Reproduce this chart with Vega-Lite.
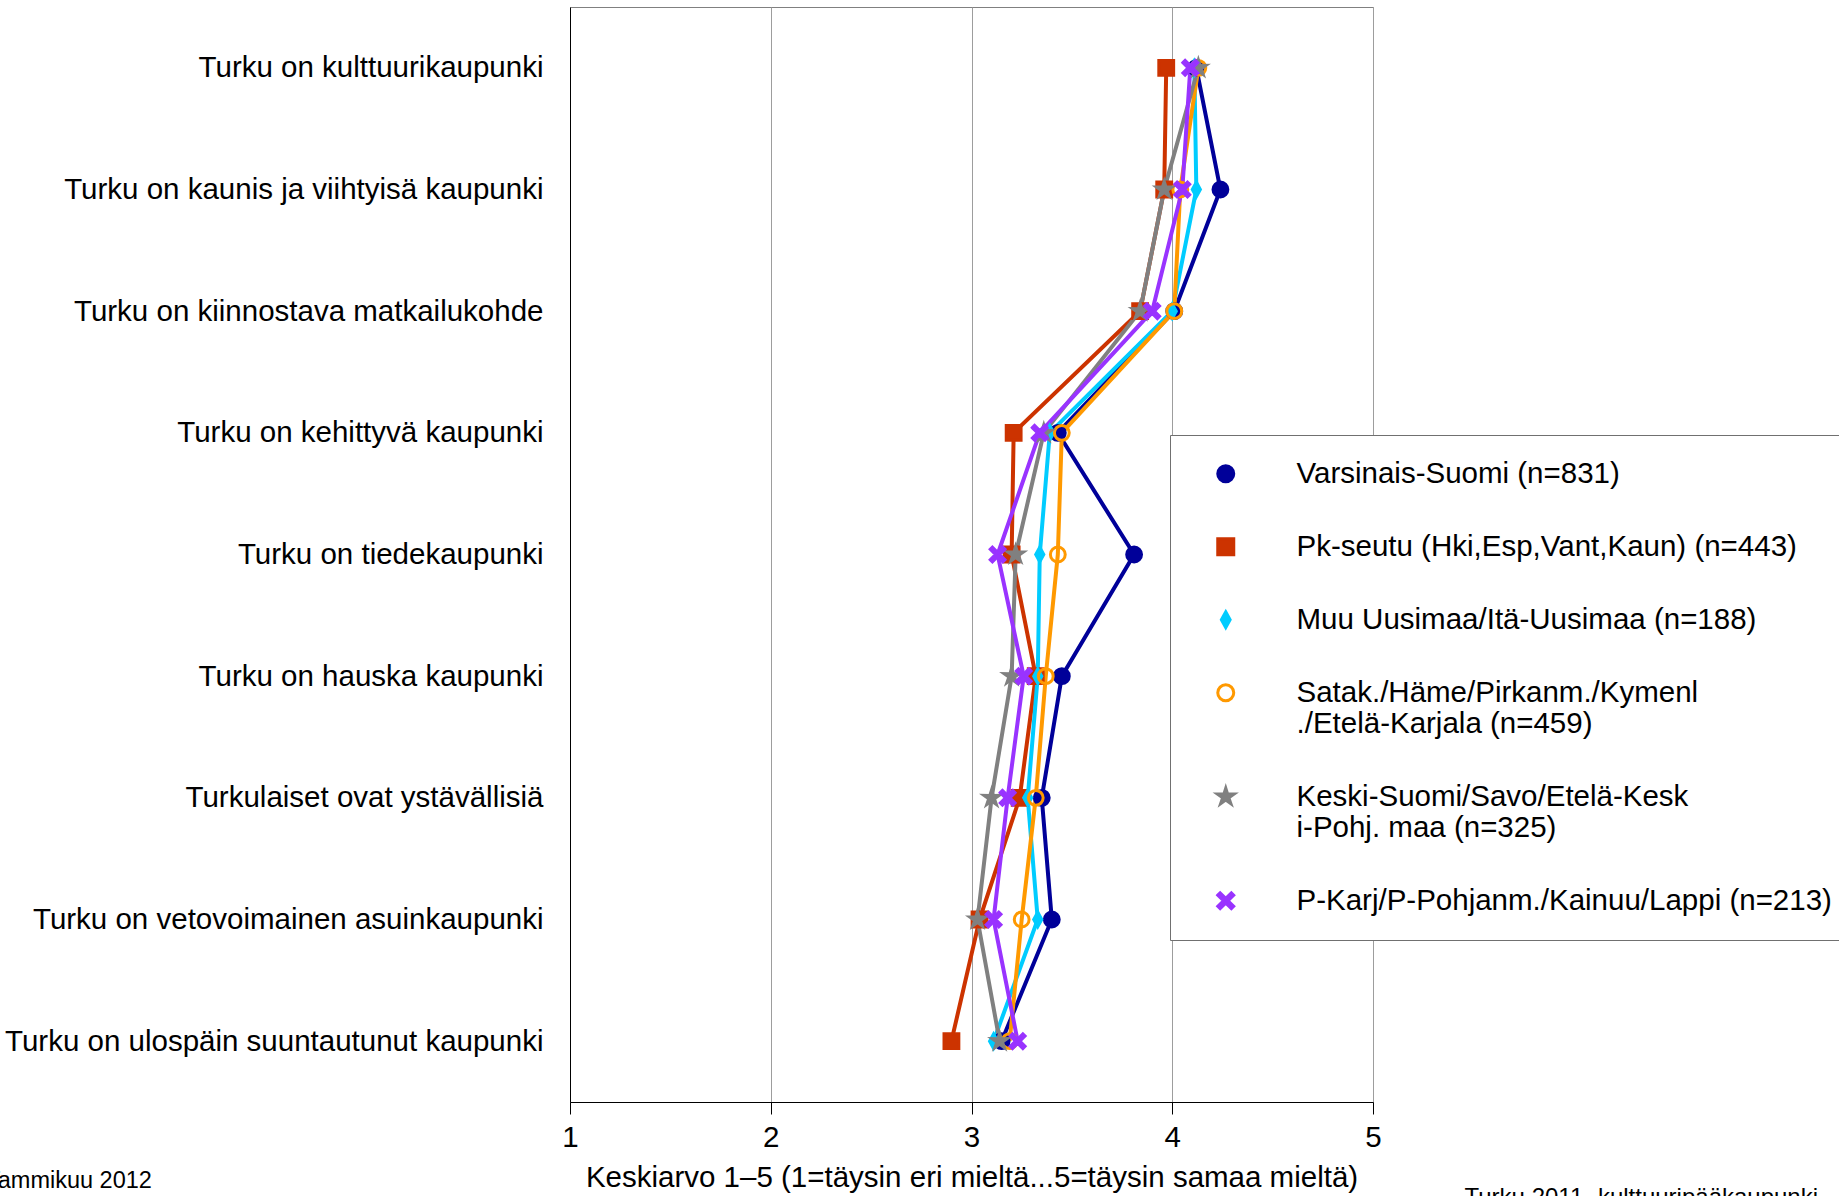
{
  "$schema": "https://vega.github.io/schema/vega-lite/v6.json",
  "width": 803,
  "height": 1095,
  "autosize": {"type": "none"},
  "padding": {"left": 570, "top": 7, "right": 466, "bottom": 94},
  "background": "white",
  "config": {
    "font": "Liberation Sans",
    "view": {"stroke": "#808080", "strokeWidth": 1},
    "legend": {
      "orient": "none",
      "legendX": 600,
      "legendY": 428,
      "padding": 24,
      "rowPadding": 42,
      "symbolSize": 256,
      "symbolStrokeWidth": 3,
      "symbolOffset": 17,
      "labelOffset": 56,
      "labelFontSize": 29.5,
      "labelColor": "black",
      "labelFont": "Liberation Sans",
      "labelLimit": 1000,
      "strokeColor": "#707070",
      "fillColor": "white"
    }
  },
  "title": {
    "text": "Tammikuu 2012",
    "orient": "bottom",
    "anchor": "start",
    "frame": "group",
    "dx": -584,
    "offset": -40,
    "fontSize": 23.5,
    "fontWeight": "normal",
    "color": "black",
    "font": "Liberation Sans"
  },
  "data": {
    "values": [
      {"q": "Turku on kulttuurikaupunki", "i": 1, "s": "Varsinais-Suomi (n=831)", "v": 4.12},
      {"q": "Turku on kaunis ja viihtyisä kaupunki", "i": 2, "s": "Varsinais-Suomi (n=831)", "v": 4.24},
      {"q": "Turku on kiinnostava matkailukohde", "i": 3, "s": "Varsinais-Suomi (n=831)", "v": 4.01},
      {"q": "Turku on kehittyvä kaupunki", "i": 4, "s": "Varsinais-Suomi (n=831)", "v": 3.43},
      {"q": "Turku on tiedekaupunki", "i": 5, "s": "Varsinais-Suomi (n=831)", "v": 3.81},
      {"q": "Turku on hauska kaupunki", "i": 6, "s": "Varsinais-Suomi (n=831)", "v": 3.45},
      {"q": "Turkulaiset ovat ystävällisiä", "i": 7, "s": "Varsinais-Suomi (n=831)", "v": 3.35},
      {"q": "Turku on vetovoimainen asuinkaupunki", "i": 8, "s": "Varsinais-Suomi (n=831)", "v": 3.4},
      {"q": "Turku on ulospäin suuntautunut kaupunki", "i": 9, "s": "Varsinais-Suomi (n=831)", "v": 3.15},
      {"q": "Turku on kulttuurikaupunki", "i": 1, "s": "Pk-seutu (Hki,Esp,Vant,Kaun) (n=443)", "v": 3.97},
      {"q": "Turku on kaunis ja viihtyisä kaupunki", "i": 2, "s": "Pk-seutu (Hki,Esp,Vant,Kaun) (n=443)", "v": 3.96},
      {"q": "Turku on kiinnostava matkailukohde", "i": 3, "s": "Pk-seutu (Hki,Esp,Vant,Kaun) (n=443)", "v": 3.84},
      {"q": "Turku on kehittyvä kaupunki", "i": 4, "s": "Pk-seutu (Hki,Esp,Vant,Kaun) (n=443)", "v": 3.21},
      {"q": "Turku on tiedekaupunki", "i": 5, "s": "Pk-seutu (Hki,Esp,Vant,Kaun) (n=443)", "v": 3.2},
      {"q": "Turku on hauska kaupunki", "i": 6, "s": "Pk-seutu (Hki,Esp,Vant,Kaun) (n=443)", "v": 3.32},
      {"q": "Turkulaiset ovat ystävällisiä", "i": 7, "s": "Pk-seutu (Hki,Esp,Vant,Kaun) (n=443)", "v": 3.24},
      {"q": "Turku on vetovoimainen asuinkaupunki", "i": 8, "s": "Pk-seutu (Hki,Esp,Vant,Kaun) (n=443)", "v": 3.04},
      {"q": "Turku on ulospäin suuntautunut kaupunki", "i": 9, "s": "Pk-seutu (Hki,Esp,Vant,Kaun) (n=443)", "v": 2.9},
      {"q": "Turku on kulttuurikaupunki", "i": 1, "s": "Muu Uusimaa/Itä-Uusimaa (n=188)", "v": 4.11},
      {"q": "Turku on kaunis ja viihtyisä kaupunki", "i": 2, "s": "Muu Uusimaa/Itä-Uusimaa (n=188)", "v": 4.12},
      {"q": "Turku on kiinnostava matkailukohde", "i": 3, "s": "Muu Uusimaa/Itä-Uusimaa (n=188)", "v": 4.0},
      {"q": "Turku on kehittyvä kaupunki", "i": 4, "s": "Muu Uusimaa/Itä-Uusimaa (n=188)", "v": 3.39},
      {"q": "Turku on tiedekaupunki", "i": 5, "s": "Muu Uusimaa/Itä-Uusimaa (n=188)", "v": 3.34},
      {"q": "Turku on hauska kaupunki", "i": 6, "s": "Muu Uusimaa/Itä-Uusimaa (n=188)", "v": 3.33},
      {"q": "Turkulaiset ovat ystävällisiä", "i": 7, "s": "Muu Uusimaa/Itä-Uusimaa (n=188)", "v": 3.28},
      {"q": "Turku on vetovoimainen asuinkaupunki", "i": 8, "s": "Muu Uusimaa/Itä-Uusimaa (n=188)", "v": 3.33},
      {"q": "Turku on ulospäin suuntautunut kaupunki", "i": 9, "s": "Muu Uusimaa/Itä-Uusimaa (n=188)", "v": 3.11},
      {"q": "Turku on kulttuurikaupunki", "i": 1, "s": "Satak./Häme/Pirkanm./Kymenl./Etelä-Karjala (n=459)", "v": 4.13},
      {"q": "Turku on kaunis ja viihtyisä kaupunki", "i": 2, "s": "Satak./Häme/Pirkanm./Kymenl./Etelä-Karjala (n=459)", "v": 4.04},
      {"q": "Turku on kiinnostava matkailukohde", "i": 3, "s": "Satak./Häme/Pirkanm./Kymenl./Etelä-Karjala (n=459)", "v": 4.01},
      {"q": "Turku on kehittyvä kaupunki", "i": 4, "s": "Satak./Häme/Pirkanm./Kymenl./Etelä-Karjala (n=459)", "v": 3.45},
      {"q": "Turku on tiedekaupunki", "i": 5, "s": "Satak./Häme/Pirkanm./Kymenl./Etelä-Karjala (n=459)", "v": 3.43},
      {"q": "Turku on hauska kaupunki", "i": 6, "s": "Satak./Häme/Pirkanm./Kymenl./Etelä-Karjala (n=459)", "v": 3.37},
      {"q": "Turkulaiset ovat ystävällisiä", "i": 7, "s": "Satak./Häme/Pirkanm./Kymenl./Etelä-Karjala (n=459)", "v": 3.32},
      {"q": "Turku on vetovoimainen asuinkaupunki", "i": 8, "s": "Satak./Häme/Pirkanm./Kymenl./Etelä-Karjala (n=459)", "v": 3.25},
      {"q": "Turku on ulospäin suuntautunut kaupunki", "i": 9, "s": "Satak./Häme/Pirkanm./Kymenl./Etelä-Karjala (n=459)", "v": 3.19},
      {"q": "Turku on kulttuurikaupunki", "i": 1, "s": "Keski-Suomi/Savo/Etelä-Keski-Pohj. maa (n=325)", "v": 4.13},
      {"q": "Turku on kaunis ja viihtyisä kaupunki", "i": 2, "s": "Keski-Suomi/Savo/Etelä-Keski-Pohj. maa (n=325)", "v": 3.96},
      {"q": "Turku on kiinnostava matkailukohde", "i": 3, "s": "Keski-Suomi/Savo/Etelä-Keski-Pohj. maa (n=325)", "v": 3.84},
      {"q": "Turku on kehittyvä kaupunki", "i": 4, "s": "Keski-Suomi/Savo/Etelä-Keski-Pohj. maa (n=325)", "v": 3.36},
      {"q": "Turku on tiedekaupunki", "i": 5, "s": "Keski-Suomi/Savo/Etelä-Keski-Pohj. maa (n=325)", "v": 3.22},
      {"q": "Turku on hauska kaupunki", "i": 6, "s": "Keski-Suomi/Savo/Etelä-Keski-Pohj. maa (n=325)", "v": 3.2},
      {"q": "Turkulaiset ovat ystävällisiä", "i": 7, "s": "Keski-Suomi/Savo/Etelä-Keski-Pohj. maa (n=325)", "v": 3.1},
      {"q": "Turku on vetovoimainen asuinkaupunki", "i": 8, "s": "Keski-Suomi/Savo/Etelä-Keski-Pohj. maa (n=325)", "v": 3.03},
      {"q": "Turku on ulospäin suuntautunut kaupunki", "i": 9, "s": "Keski-Suomi/Savo/Etelä-Keski-Pohj. maa (n=325)", "v": 3.14},
      {"q": "Turku on kulttuurikaupunki", "i": 1, "s": "P-Karj/P-Pohjanm./Kainuu/Lappi (n=213)", "v": 4.09},
      {"q": "Turku on kaunis ja viihtyisä kaupunki", "i": 2, "s": "P-Karj/P-Pohjanm./Kainuu/Lappi (n=213)", "v": 4.05},
      {"q": "Turku on kiinnostava matkailukohde", "i": 3, "s": "P-Karj/P-Pohjanm./Kainuu/Lappi (n=213)", "v": 3.9},
      {"q": "Turku on kehittyvä kaupunki", "i": 4, "s": "P-Karj/P-Pohjanm./Kainuu/Lappi (n=213)", "v": 3.34},
      {"q": "Turku on tiedekaupunki", "i": 5, "s": "P-Karj/P-Pohjanm./Kainuu/Lappi (n=213)", "v": 3.13},
      {"q": "Turku on hauska kaupunki", "i": 6, "s": "P-Karj/P-Pohjanm./Kainuu/Lappi (n=213)", "v": 3.26},
      {"q": "Turkulaiset ovat ystävällisiä", "i": 7, "s": "P-Karj/P-Pohjanm./Kainuu/Lappi (n=213)", "v": 3.18},
      {"q": "Turku on vetovoimainen asuinkaupunki", "i": 8, "s": "P-Karj/P-Pohjanm./Kainuu/Lappi (n=213)", "v": 3.11},
      {"q": "Turku on ulospäin suuntautunut kaupunki", "i": 9, "s": "P-Karj/P-Pohjanm./Kainuu/Lappi (n=213)", "v": 3.23}
    ]
  },
  "encoding": {
    "y": {
      "field": "q",
      "type": "nominal",
      "sort": ["Turku on kulttuurikaupunki", "Turku on kaunis ja viihtyisä kaupunki", "Turku on kiinnostava matkailukohde", "Turku on kehittyvä kaupunki", "Turku on tiedekaupunki", "Turku on hauska kaupunki", "Turkulaiset ovat ystävällisiä", "Turku on vetovoimainen asuinkaupunki", "Turku on ulospäin suuntautunut kaupunki"],
      "axis": {
        "title": "Turku 2011 -kulttuuripääkaupunki",
        "titleAngle": 0,
        "titleX": 894,
        "titleY": 1178,
        "titleAlign": "left",
        "titleBaseline": "top",
        "titleFontSize": 24,
        "titleFontWeight": "normal",
        "titleColor": "black",
        "labelFontSize": 29.5,
        "labelColor": "black",
        "labelPadding": 27,
        "labelLimit": 0,
        "ticks": false,
        "domainColor": "black",
        "grid": false
      }
    },
    "x": {
      "field": "v",
      "type": "quantitative",
      "scale": {"domain": [1, 5], "nice": false, "zero": false},
      "axis": {
        "orient": "bottom",
        "values": [1, 2, 3, 4, 5],
        "format": "d",
        "title": "Keskiarvo 1–5 (1=täysin eri mieltä...5=täysin samaa mieltä)",
        "titleFontSize": 29.5,
        "titleFontWeight": "normal",
        "titleColor": "black",
        "titlePadding": 12,
        "labelFontSize": 29.5,
        "labelColor": "black",
        "labelPadding": 9,
        "labelFlush": false,
        "tickSize": 12,
        "tickColor": "black",
        "domainColor": "black",
        "grid": true,
        "gridColor": "#9d9d9d"
      }
    }
  },
  "layer": [
    {
      "mark": {"type": "line", "strokeWidth": 4},
      "encoding": {
        "stroke": {
          "field": "s",
          "type": "nominal",
          "title": null,
          "scale": {
            "domain": ["Varsinais-Suomi (n=831)", "Pk-seutu (Hki,Esp,Vant,Kaun) (n=443)", "Muu Uusimaa/Itä-Uusimaa (n=188)", "Satak./Häme/Pirkanm./Kymenl./Etelä-Karjala (n=459)", "Keski-Suomi/Savo/Etelä-Keski-Pohj. maa (n=325)", "P-Karj/P-Pohjanm./Kainuu/Lappi (n=213)"],
            "range": ["#000099", "#CC3300", "#00CCFF", "#FF9900", "#808080", "#9933FF"]
          }
        },
        "order": {"field": "i", "type": "quantitative"}
      }
    },
    {
      "mark": {"type": "point", "size": 220, "strokeWidth": 3, "opacity": 1},
      "encoding": {
        "shape": {
          "field": "s",
          "type": "nominal",
          "title": null,
          "scale": {
            "domain": ["Varsinais-Suomi (n=831)", "Pk-seutu (Hki,Esp,Vant,Kaun) (n=443)", "Muu Uusimaa/Itä-Uusimaa (n=188)", "Satak./Häme/Pirkanm./Kymenl./Etelä-Karjala (n=459)", "Keski-Suomi/Savo/Etelä-Keski-Pohj. maa (n=325)", "P-Karj/P-Pohjanm./Kainuu/Lappi (n=213)"],
            "range": ["circle", "square", "M0,-1L0.55,0L0,1L-0.55,0Z", "circle", "M0,-1.1L0.24,-0.33L1.05,-0.34L0.39,0.13L0.65,0.89L0,0.42L-0.65,0.89L-0.39,0.13L-1.05,-0.34L-0.24,-0.33Z", "M-1,-0.7L-0.7,-1L0,-0.3L0.7,-1L1,-0.7L0.3,0L1,0.7L0.7,1L0,0.3L-0.7,1L-1,0.7L-0.3,0Z"]
          },
          "legend": {
            "orient": "none",
            "legendX": 600,
            "legendY": 428,
            "labelExpr": "datum.label == 'Satak./Häme/Pirkanm./Kymenl./Etelä-Karjala (n=459)' ? ['Satak./Häme/Pirkanm./Kymenl', './Etelä-Karjala (n=459)'] : datum.label == 'Keski-Suomi/Savo/Etelä-Keski-Pohj. maa (n=325)' ? ['Keski-Suomi/Savo/Etelä-Kesk', 'i-Pohj. maa  (n=325)'] : datum.label"
          }
        },
        "fill": {
          "field": "s",
          "type": "nominal",
          "title": null,
          "scale": {
            "domain": ["Varsinais-Suomi (n=831)", "Pk-seutu (Hki,Esp,Vant,Kaun) (n=443)", "Muu Uusimaa/Itä-Uusimaa (n=188)", "Satak./Häme/Pirkanm./Kymenl./Etelä-Karjala (n=459)", "Keski-Suomi/Savo/Etelä-Keski-Pohj. maa (n=325)", "P-Karj/P-Pohjanm./Kainuu/Lappi (n=213)"],
            "range": ["#000099", "#CC3300", "#00CCFF", "transparent", "#808080", "#9933FF"]
          }
        },
        "stroke": {
          "field": "s",
          "type": "nominal",
          "title": null,
          "scale": {
            "domain": ["Varsinais-Suomi (n=831)", "Pk-seutu (Hki,Esp,Vant,Kaun) (n=443)", "Muu Uusimaa/Itä-Uusimaa (n=188)", "Satak./Häme/Pirkanm./Kymenl./Etelä-Karjala (n=459)", "Keski-Suomi/Savo/Etelä-Keski-Pohj. maa (n=325)", "P-Karj/P-Pohjanm./Kainuu/Lappi (n=213)"],
            "range": ["#000099", "#CC3300", "#00CCFF", "#FF9900", "#808080", "#9933FF"]
          }
        }
      }
    }
  ]
}
